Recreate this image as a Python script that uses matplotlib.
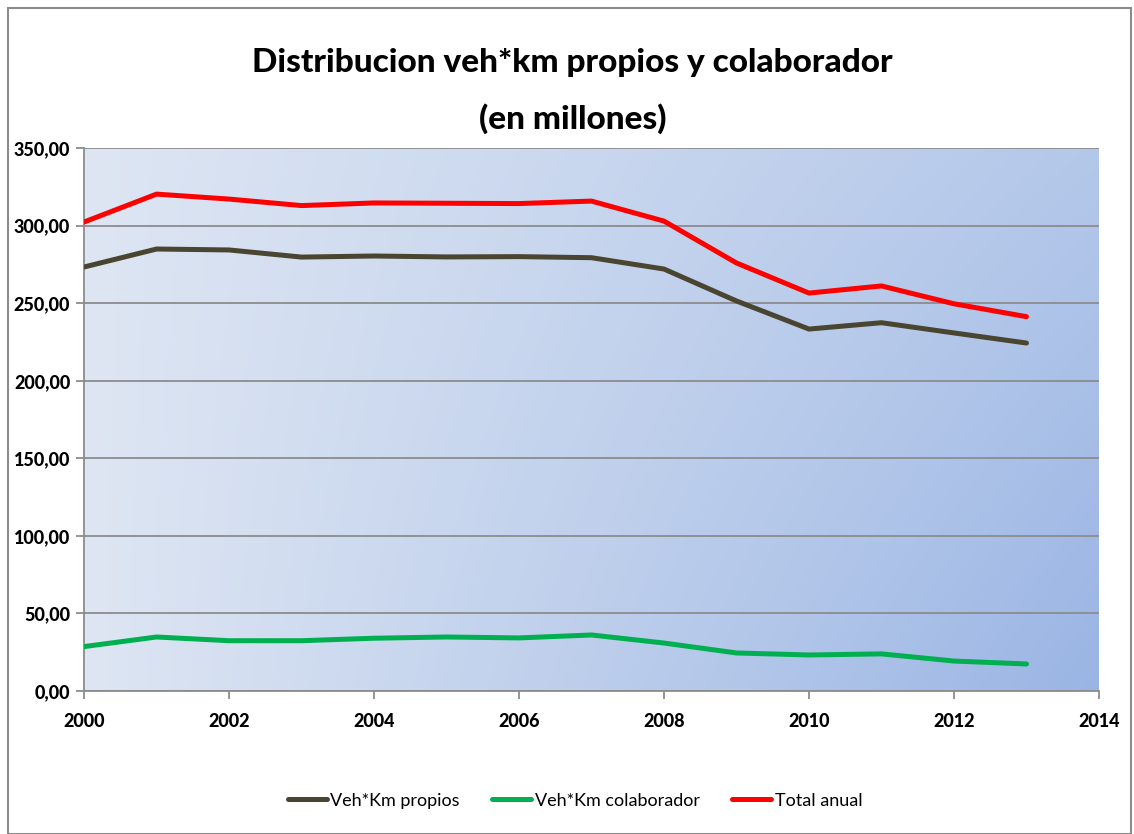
import numpy as np
import matplotlib.pyplot as plt
from matplotlib.patches import Rectangle

# Datos (millones de veh*km)
years = [2000, 2001, 2002, 2003, 2004, 2005, 2006, 2007, 2008, 2009, 2010, 2011, 2012, 2013]
propios = [273.3, 284.9, 284.3, 279.7, 280.4, 279.8, 280.0, 279.3, 272.0, 251.4, 233.3, 237.4, 230.8, 224.3]
colaborador = [28.6, 34.8, 32.4, 32.4, 34.0, 34.8, 34.2, 36.1, 30.9, 24.5, 23.2, 23.9, 19.3, 17.4]
total = [302.3, 320.3, 317.1, 312.9, 314.6, 314.4, 314.2, 315.8, 302.9, 275.9, 256.5, 261.1, 249.6, 241.3]
x_ticks = list(range(2000, 2015, 2))
y_ticks = list(range(0, 351, 50))
y_labels = [f"{v:.2f}".replace('.', ',') for v in y_ticks]

plt.rcParams['font.family'] = ['Lato', 'DejaVu Sans']

fig = plt.figure(figsize=(11.34, 8.34), dpi=100)
ax = fig.add_axes([0.0741, 0.1715, 0.895, 0.651])

# fondo degradado
gx, gy = np.meshgrid(np.linspace(0, 1, 200), np.linspace(0, 1, 200))
t = gx * (0.62 + 0.38 * gy)
c0 = np.array([0xDE, 0xE6, 0xF3]) / 255
c1 = np.array([0x9A, 0xB5, 0xE4]) / 255
img = c0 + (c1 - c0) * t[..., None]
ax.imshow(img, extent=[0, 1, 0, 1], transform=ax.transAxes, aspect='auto', zorder=0, origin='upper')

ax.plot(years, propios, color='#4A4530', lw=3.6, label='Veh*Km propios', zorder=3, solid_capstyle='round')
ax.plot(years, colaborador, color='#00B050', lw=3.6, label='Veh*Km colaborador', zorder=3, solid_capstyle='round')
ax.plot(years, total, color='#FF0000', lw=3.6, label='Total anual', zorder=3, solid_capstyle='round')

ax.set_xlim(2000, 2014)
ax.set_ylim(0, 350)
ax.set_xticks(x_ticks, labels=[str(v) for v in x_ticks], fontweight=900, fontsize=13)
ax.set_yticks(y_ticks, labels=y_labels, fontweight=900, fontsize=13)
ax.grid(axis='y', color='#8C8C8C', lw=1.3, zorder=1)
ax.set_axisbelow(False)
for s in ['top', 'right']:
    ax.spines[s].set_visible(False)
for s in ['left', 'bottom']:
    ax.spines[s].set_color('#8C8C8C')
    ax.spines[s].set_linewidth(1.3)
ax.tick_params(direction='out', length=6, color='#8C8C8C', width=1.3)
ax.tick_params(axis='x', pad=10)
ax.tick_params(axis='y', pad=4)

fig.text(0.505, 0.925, 'Distribucion veh*km propios y colaborador', ha='center', va='center',
         fontsize=24, fontweight=900)
fig.text(0.505, 0.858, '(en millones)', ha='center', va='center', fontsize=24, fontweight=900)

fig.legend(loc='center', bbox_to_anchor=(0.507, 0.04), ncol=3, frameon=False, fontsize=13,
           handlelength=2.15, handletextpad=0.2, columnspacing=1.8)

# borde del gráfico
fig.patches.append(Rectangle((0.007, 0.0), 0.99, 0.99, transform=fig.transFigure,
                             fill=False, edgecolor='#8C8C8C', lw=1.5))

fig.savefig('out.png', dpi=100)
